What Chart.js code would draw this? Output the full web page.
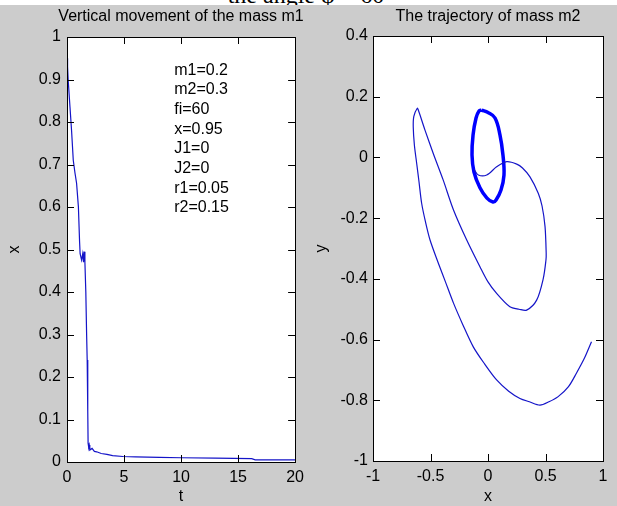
<!DOCTYPE html>
<html>
<head>
<meta charset="utf-8">
<script src="https://cdn.jsdelivr.net/npm/chart.js@4/dist/chart.umd.min.js"></script>
<style>
  body { margin: 0; background: #cccccc; }
  #wrap { position: relative; width: 617px; height: 506px; overflow: hidden; background: #cccccc; }
  #left { position: absolute; left: 0; top: 0; }
  #right { position: absolute; left: 310px; top: 0; }
  #strip { position: absolute; left: 0; top: 0; width: 617px; height: 5px; background: #fff; overflow: hidden; }
  #strip div { position: absolute; left: 0; top: -17px; width: 612px; text-align: center;
    font: 24px 'Liberation Serif', 'Times New Roman', serif; line-height: 24px; color: #000; }
</style>
</head>
<body>
<div id="wrap">
  <canvas id="left" width="310" height="506"></canvas>
  <canvas id="right" width="307" height="506"></canvas>
  <div id="strip"><div>the angle φ = 60</div></div>
</div>
<script>
// vertical movement of m1: x(t)
const tValues = [0, 0.05, 0.1, 0.26, 0.4, 0.55, 0.7, 0.84, 1.0, 1.1, 1.15, 1.28, 1.38, 1.45, 1.5, 1.57,
    1.65, 1.72, 1.77, 1.82, 1.85, 1.9, 1.95, 2.0, 2.2, 2.4, 2.6, 3.0, 3.5, 4.0, 4.9, 6, 8.1, 10, 13, 16.2, 16.5, 20];
const xValues = [0.95, 0.93, 0.90, 0.836, 0.78, 0.71, 0.68, 0.656, 0.60, 0.52, 0.49, 0.475, 0.49, 0.47, 0.495, 0.47,
    0.40, 0.30, 0.24, 0.12, 0.044, 0.035, 0.04, 0.028, 0.032, 0.025, 0.024, 0.02, 0.018, 0.015, 0.013, 0.012, 0.011, 0.01, 0.009, 0.008, 0.005, 0.005];

// trajectory of m2 (transient part)
const trajX = [0.90, 0.84, 0.77, 0.70, 0.61, 0.53, 0.452, 0.36, 0.278, 0.18, 0.075, -0.03, -0.128, -0.22, -0.30, -0.37,
    -0.43, -0.504, -0.545, -0.577, -0.60, -0.62, -0.64, -0.65, -0.645, -0.615, -0.606, -0.548, -0.476, -0.39, -0.30,
    -0.185, -0.07, 0.0, 0.075, 0.19, 0.27, 0.336, 0.423, 0.48, 0.504, 0.506, 0.496, 0.47, 0.437, 0.365, 0.30, 0.25,
    0.163, 0.075, -0.011, -0.084, -0.12];
const trajY = [-0.607, -0.66, -0.71, -0.755, -0.788, -0.805, -0.816, -0.805, -0.794, -0.77, -0.733, -0.68, -0.624, -0.55,
    -0.48, -0.41, -0.35, -0.272, -0.21, -0.151, -0.08, -0.02, 0.04, 0.10, 0.135, 0.162, 0.156, 0.09, 0.013, -0.074,
    -0.173, -0.272, -0.36, -0.41, -0.448, -0.492, -0.50, -0.503, -0.47, -0.40, -0.338, -0.316, -0.228, -0.16, -0.118,
    -0.064, -0.035, -0.022, -0.014, -0.031, -0.058, -0.058, -0.04];

// settled loop of m2
const loopX = [-0.055, 0.0, 0.061, 0.104, 0.130, 0.139, 0.113, 0.07, 0.043, -0.009, -0.07, -0.122, -0.139, -0.13, -0.104, -0.078, -0.055];
const loopY = [0.156, 0.148, 0.130, 0.074, 0.008, -0.058, -0.107, -0.14, -0.147, -0.134, -0.10, -0.048, 0.008, 0.074, 0.13, 0.153, 0.156];

const paramLines = ['m1=0.2', 'm2=0.3', 'fi=60', 'x=0.95', 'J1=0', 'J2=0', 'r1=0.05', 'r2=0.15'];

const FONT = "'Liberation Sans', Arial, sans-serif";
Chart.defaults.font.family = FONT;
Chart.defaults.font.size = 16;
Chart.defaults.color = '#000';

function pts(xs, ys) {
    return xs.map((v, i) => ({x: v, y: ys[i]}));
}

function fmt(v) {
    return String(Math.round(v * 10) / 10);
}

// white axes background, black box, inward ticks and title over the axes (matlab look)
const matlabBox = {
    id: 'matlabBox',
    beforeDraw(chart) {
        const {ctx, chartArea: a} = chart;
        ctx.save();
        ctx.fillStyle = '#fff';
        ctx.fillRect(a.left, a.top, a.right - a.left, a.bottom - a.top);
        ctx.restore();
    },
    afterDraw(chart, args, opts) {
        const {ctx, chartArea: a, scales} = chart;
        const len = 7;
        ctx.save();
        ctx.strokeStyle = '#000';
        ctx.lineWidth = 1;
        ctx.beginPath();
        scales.x.ticks.forEach(t => {
            const px = Math.round(scales.x.getPixelForValue(t.value)) + 0.5;
            ctx.moveTo(px, a.bottom); ctx.lineTo(px, a.bottom - len);
            ctx.moveTo(px, a.top); ctx.lineTo(px, a.top + len);
        });
        scales.y.ticks.forEach(t => {
            const py = Math.round(scales.y.getPixelForValue(t.value)) + 0.5;
            ctx.moveTo(a.left, py); ctx.lineTo(a.left + len, py);
            ctx.moveTo(a.right, py); ctx.lineTo(a.right - len, py);
        });
        ctx.stroke();
        ctx.strokeRect(Math.round(a.left) + 0.5, Math.round(a.top) + 0.5,
            Math.round(a.right - a.left), Math.round(a.bottom - a.top));
        // title
        ctx.font = '16px ' + FONT;
        ctx.fillStyle = '#000';
        ctx.textAlign = 'center';
        ctx.textBaseline = 'middle';
        ctx.fillText(opts.title, (a.left + a.right) / 2, 17);
        ctx.restore();
    }
};

const paramText = {
    id: 'paramText',
    afterDatasetsDraw(chart) {
        const {ctx, scales} = chart;
        const x0 = scales.x.getPixelForValue(9.4);
        const y0 = scales.y.getPixelForValue(0.922);
        ctx.save();
        ctx.font = '16px ' + FONT;
        ctx.fillStyle = '#000';
        ctx.textBaseline = 'middle';
        paramLines.forEach((s, i) => ctx.fillText(s, x0, y0 + i * 19.7));
        ctx.restore();
    }
};

function axis(min, max, step, title, isY, width, titlePad, tickPad) {
    return {
        type: 'linear',
        min: min,
        max: max,
        grid: {display: false, drawTicks: false},
        border: {display: false},
        ticks: {stepSize: step, padding: tickPad, callback: fmt, maxRotation: 0, autoSkip: false},
        title: {display: true, text: title, padding: isY ? {top: titlePad, bottom: 0} : {top: 0, bottom: titlePad}},
        afterFit(scale) {
            if (isY) scale.width = width; else scale.height = width;
        }
    };
}

new Chart(document.getElementById('left'), {
    type: 'line',
    data: {
        datasets: [{
            data: pts(tValues, xValues),
            borderColor: '#1414c8',
            borderWidth: 1.2,
            pointRadius: 0,
            tension: 0
        }]
    },
    options: {
        responsive: false,
        animation: false,
        layout: {padding: {left: 0, right: 13, top: 37, bottom: 0}},
        plugins: {
            legend: {display: false},
            tooltip: {enabled: false},
            matlabBox: {title: 'Vertical movement of the mass m1'}
        },
        scales: {
            x: axis(0, 20, 5, 't', false, 44, 0, 6),
            y: axis(0, 1, 0.1, 'x', true, 67, 5, 6)
        }
    },
    plugins: [matlabBox, paramText]
});

new Chart(document.getElementById('right'), {
    type: 'scatter',
    data: {
        datasets: [{
            data: pts(trajX, trajY),
            showLine: true,
            borderColor: '#1414c8',
            borderWidth: 1.2,
            pointRadius: 0,
            tension: 0.3
        }, {
            data: pts(loopX, loopY),
            showLine: true,
            borderColor: '#0000ff',
            borderWidth: 3.5,
            pointRadius: 0,
            tension: 0.4
        }]
    },
    options: {
        responsive: false,
        animation: false,
        layout: {padding: {left: 0, right: 14, top: 36, bottom: 0}},
        plugins: {
            legend: {display: false},
            tooltip: {enabled: false},
            matlabBox: {title: 'The trajectory of mass m2'}
        },
        scales: {
            x: axis(-1, 1, 0.5, 'x', false, 45, 0, 6),
            y: axis(-1, 0.4, 0.2, 'y', true, 63, 2, 5)
        }
    },
    plugins: [matlabBox]
});
</script>
</body>
</html>
